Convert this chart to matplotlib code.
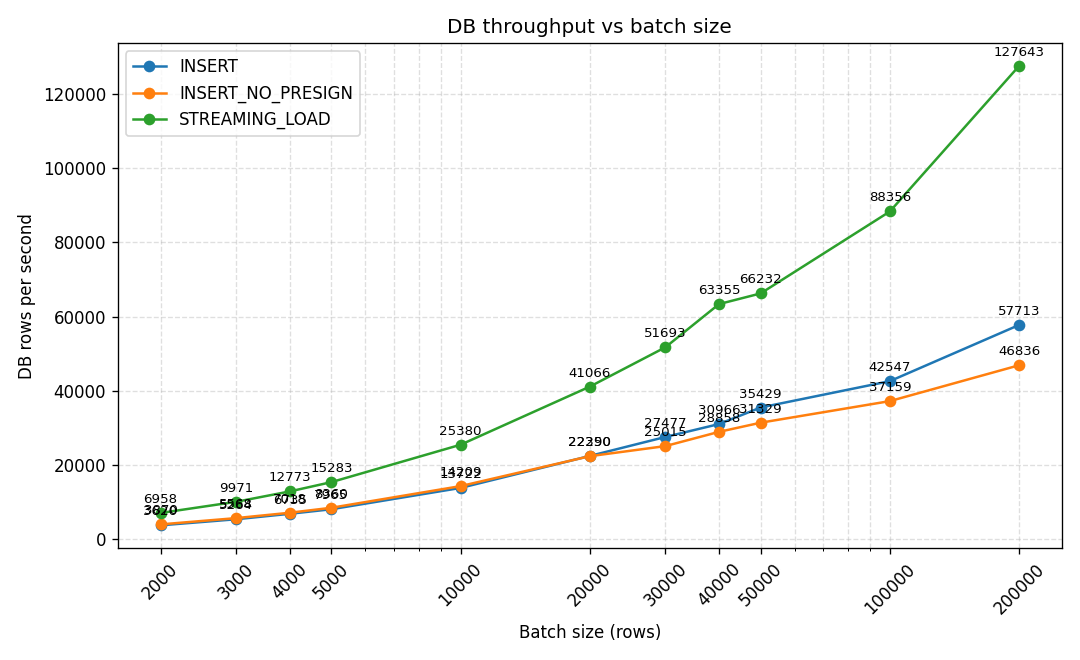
import matplotlib
matplotlib.use("Agg")
import matplotlib.pyplot as plt

batch_sizes = [2000, 3000, 4000, 5000, 10000, 20000, 30000, 40000, 50000, 100000, 200000]
insert = [3620, 5264, 6735, 7965, 13722, 22350, 27477, 30966, 35429, 42547, 57713]
insert_no_presign = [3870, 5568, 7018, 8360, 14209, 22290, 25015, 28858, 31329, 37159, 46836]
streaming_load = [6958, 9971, 12773, 15283, 25380, 41066, 51693, 63355, 66232, 88356, 127643]

series = [
    ("INSERT", insert),
    ("INSERT_NO_PRESIGN", insert_no_presign),
    ("STREAMING_LOAD", streaming_load),
]

fig, ax = plt.subplots(figsize=(9, 5.5), dpi=120)

for name, vals in series:
    ax.plot(batch_sizes, vals, marker="o", label=name)
    for x, y in zip(batch_sizes, vals):
        ax.annotate(str(y), (x, y), textcoords="offset points", xytext=(0, 6),
                    ha="center", fontsize=8)

ax.set_xscale("log")
ax.set_xticks(batch_sizes)
ax.set_xticklabels([str(b) for b in batch_sizes], rotation=45)
ax.grid(True, which="both", linestyle="--", alpha=0.4)
ax.set_xlabel("Batch size (rows)")
ax.set_ylabel("DB rows per second")
ax.set_title("DB throughput vs batch size")
ax.legend(loc="upper left")

fig.tight_layout()
fig.savefig("out.png")
